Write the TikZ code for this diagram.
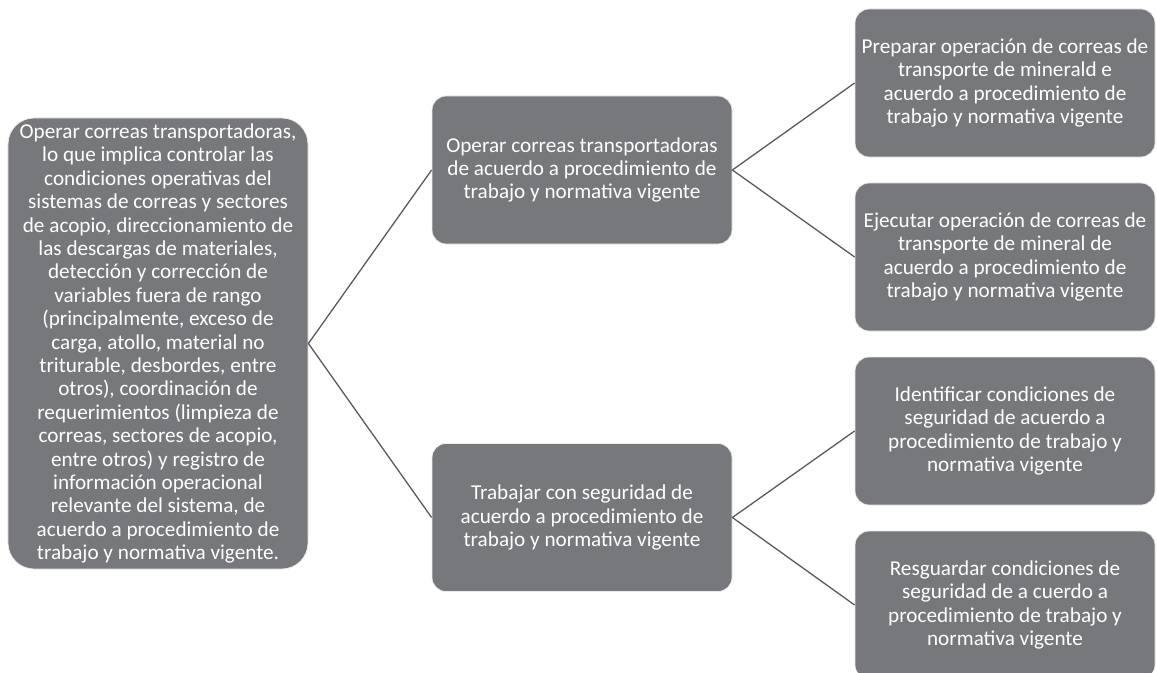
\documentclass[tikz,border=0pt]{standalone}
\usepackage{fontspec}
\setmainfont{Carlito}
\definecolor{boxgray}{HTML}{77787B}
\definecolor{linegray}{HTML}{5A5A5C}
\begin{document}
\begin{tikzpicture}[x=1bp,y=-1bp,
  box/.style={draw=white!85!boxgray, line width=0.8bp, fill=boxgray, text=white, align=center,
    rounded corners=14bp, inner sep=0pt, minimum width=300bp, minimum height=148bp,
    font=\fontsize{21.2bp}{23.4bp}\selectfont},
  bigbox/.style={box, rounded corners=26bp, minimum height=451bp},
  conn/.style={draw=linegray, line width=1.3bp}]
\useasboundingbox (0,0) rectangle (1157,673);
\begin{scope}
\clip (0,0) rectangle (1157,673);
\node[bigbox] (root) at (158,343.5) {Operar correas transportadoras,\\lo que implica controlar las\\condiciones operativas del\\sistemas de correas y sectores\\de acopio, direccionamiento de\\las descargas de materiales,\\detección y corrección de\\variables fuera de rango\\(principalmente, exceso de\\carga, atollo, material no\\triturable, desbordes, entre\\otros), coordinación de\\requerimientos (limpieza de\\correas, sectores de acopio,\\entre otros) y registro de\\información operacional\\relevante del sistema, de\\acuerdo a procedimiento de\\trabajo y normativa vigente.};
\node[box] (m1) at (582,170) {Operar correas transportadoras\\de acuerdo a procedimiento de\\trabajo y normativa vigente};
\node[box] (m2) at (582,517.5) {Trabajar con seguridad de\\acuerdo a procedimiento de\\trabajo y normativa vigente};
\node[box] (r1) at (1005,83) {Preparar operación de correas de\\transporte de minerald e\\acuerdo a procedimiento de\\trabajo y normativa vigente};
\node[box] (r2) at (1005,257) {Ejecutar operación de correas de\\transporte de mineral de\\acuerdo a procedimiento de\\trabajo y normativa vigente};
\node[box] (r3) at (1005,431) {Identificar condiciones de\\seguridad de acuerdo a\\procedimiento de trabajo y\\normativa vigente};
\node[box] (r4) at (1005,605) {Resguardar condiciones de\\seguridad de a cuerdo a\\procedimiento de trabajo y\\normativa vigente};
\end{scope}
\draw[conn] (m1.west) -- (root.east) -- (m2.west);
\draw[conn] (r1.west) -- (m1.east) -- (r2.west);
\draw[conn] (r3.west) -- (m2.east) -- (r4.west);
\end{tikzpicture}
\end{document}
